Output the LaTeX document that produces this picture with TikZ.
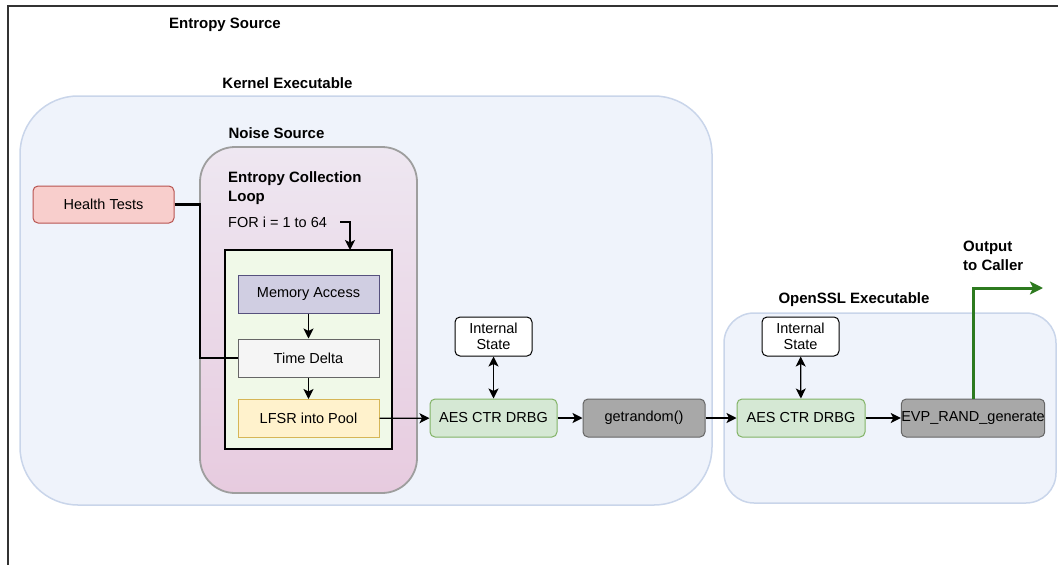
\documentclass[tikz,border=0pt]{standalone}
\usepackage{fontspec}
\setmainfont{Liberation Sans}
\usepackage{tikz}
\usetikzlibrary{arrows.meta}

\definecolor{kernfill}{HTML}{EFF3FB}
\definecolor{kerndraw}{HTML}{C9D5EA}
\definecolor{noisetop}{HTML}{EEE7F1}
\definecolor{noisebot}{HTML}{E7CBDF}
\definecolor{loopfill}{HTML}{F0F9E8}
\definecolor{memfill}{HTML}{D0CEE2}
\definecolor{memdraw}{HTML}{56517E}
\definecolor{lfsrfill}{HTML}{FFF2CC}
\definecolor{lfsrdraw}{HTML}{D6B656}
\definecolor{aesfill}{HTML}{D5E8D4}
\definecolor{aesdraw}{HTML}{82B366}
\definecolor{htfill}{HTML}{F8CECC}
\definecolor{htdraw}{HTML}{B85450}
\definecolor{apifill}{HTML}{A8A8A8}
\definecolor{outgreen}{HTML}{2D7A1F}

\tikzset{
  lbl/.style={font=\bfseries\fontsize{15}{19}\selectfont, inner sep=0pt},
  txt/.style={font=\fontsize{14.5}{18}\selectfont, inner sep=0pt},
  blk/.style={draw, line width=1pt, minimum width=141pt, minimum height=38pt,
    inner sep=0pt, font=\fontsize{14.5}{17}\selectfont},
  rblk/.style={blk, rounded corners=5pt},
  exebox/.style={draw=kerndraw, fill=kernfill, line width=1.5pt},
  arr/.style={-{Stealth[length=10pt,width=10pt,inset=2.5pt]}, line width=1.3pt},
  darr/.style={{Stealth[length=10pt,width=10pt,inset=2.5pt]}-{Stealth[length=10pt,width=10pt,inset=2.5pt]}, line width=1.3pt},
}

\begin{document}
\begin{tikzpicture}[x=1pt,y=-1pt]
\useasboundingbox (0,0) rectangle (1058,565);
%frame
\draw[line width=2.5pt, color=black!80] (8,565) -- (8,6) -- (1058,6);
\node[lbl] (entlbl) at (225,25) {Entropy Source};
%kernel
\node[exebox, rounded corners=58pt, minimum width=692pt, minimum height=409pt] (kernel) at (366,300.5) {};
\node[lbl] (kernlbl) at (287.5,83) {Kernel Executable};
%noise source
\node[draw=black!38, line width=1.8pt, top color=noisetop, bottom color=noisebot,
  rounded corners=35pt, minimum width=217pt, minimum height=346pt] (noise) at (308.5,320) {};
\node[lbl] (noiselbl) at (276.5,133) {Noise Source};
\node[lbl, anchor=west, align=left] (looplbl) at (228,188.5) {Entropy Collection\\Loop};
\node[txt, anchor=west] (forlbl) at (228,222) {FOR i = 1 to 64};
\node[draw, fill=loopfill, line width=1.6pt, minimum width=167pt, minimum height=199pt] (loopbox) at (308.5,349.5) {};
\node[blk, fill=memfill, draw=memdraw] (mem) at (308.5,294) {Memory Access};
\node[blk, fill=black!4, draw=black!60] (delta) at (308.5,358) {Time Delta};
\node[blk, fill=lfsrfill, draw=lfsrdraw] (lfsr) at (308.5,418.5) {LFSR into Pool};
\node[rblk, fill=htfill, draw=htdraw, minimum height=37pt] (health) at (103.5,204.5) {Health Tests};
%kernel drbg
\node[rblk, fill=aesfill, draw=aesdraw, minimum width=127pt] (aes1) at (493.5,418) {AES CTR DRBG};
\node[rblk, fill=white, draw=black, minimum width=77pt, minimum height=39pt, align=center,
  font=\fontsize{14.5}{16.5}\selectfont] (state1) at (493.5,336.5) {Internal\\State};
\node[rblk, fill=apifill, draw=black!60, minimum width=122pt] (getr) at (644,418) {getrandom()};
%openssl
\node[exebox, rounded corners=30pt, minimum width=332pt, minimum height=190pt] (openssl) at (890,408) {};
\node[lbl] (ossllbl) at (854,300) {OpenSSL Executable};
\node[rblk, fill=white, draw=black, minimum width=77pt, minimum height=39pt, align=center,
  font=\fontsize{14.5}{16.5}\selectfont] (state2) at (800.5,336.5) {Internal\\State};
\node[rblk, fill=aesfill, draw=aesdraw, minimum width=128pt] (aes2) at (801,418) {AES CTR DRBG};
\node[rblk, fill=apifill, draw=black!60, minimum width=140pt] (evp) at (973,418) {EVP\_RAND\_generate};
\node[lbl, anchor=west, align=left] (outlbl) at (963,256) {Output\\to Caller};
%arrows
\coordinate (loopst) at (340,222);
\coordinate (looptop) at (350,250);
\draw[arr] (loopst) -| (looptop);
\draw[arr] (mem) -- (delta);
\draw[arr] (delta) -- (lfsr);
\coordinate (hbend) at (200,300);
\draw[line width=2.3pt] (health.east) -| (hbend) |- (delta.west);
\draw[arr] (lfsr) -- (aes1);
\draw[darr] (state1) -- (aes1);
\draw[arr] (aes1) -- (getr);
\draw[arr] (getr) -- (aes2);
\draw[darr] (state2) -- (aes2);
\draw[arr] (aes2) -- (evp);
\coordinate (outend) at (1043,288);
\draw[outgreen, line width=3pt, -{Stealth[length=13pt,width=13pt,inset=3pt]}] (evp.north) |- (outend);
\end{tikzpicture}
\end{document}
